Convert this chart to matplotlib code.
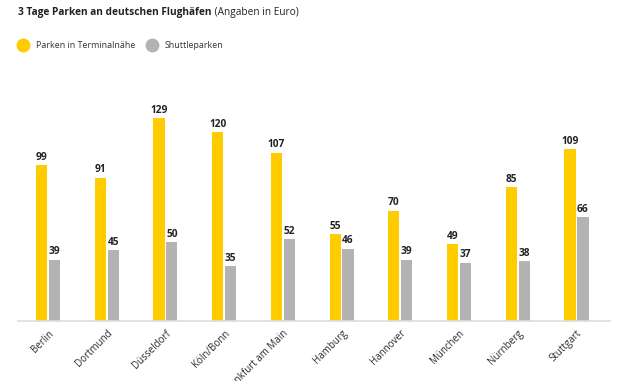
import numpy as np
import matplotlib.pyplot as plt
from matplotlib.lines import Line2D

cities = ["Berlin", "Dortmund", "Düsseldorf", "Köln/Bonn", "Frankfurt am Main",
          "Hamburg", "Hannover", "München", "Nürnberg", "Stuttgart"]
terminal = [99, 91, 129, 120, 107, 55, 70, 49, 85, 109]
shuttle = [39, 45, 50, 35, 52, 46, 39, 37, 38, 66]
series = ["Parken in Terminalnähe", "Shuttleparken"]

yellow = "#FFCC00"
grey = "#B3B3B3"

plt.rcParams['font.family'] = ['Open Sans', 'DejaVu Sans']

fig = plt.figure(figsize=(6.3, 3.81), dpi=100)
ax = fig.add_axes([18/630, 1 - 321/381, 592/630, 221/381])

x = np.arange(len(cities))
w = 0.19
b1 = ax.bar(x - 0.11, terminal, w, color=yellow)
b2 = ax.bar(x + 0.11, shuttle, w, color=grey)

for bars in (b1, b2):
    for r in bars:
        ax.text(r.get_x() + r.get_width() / 2, r.get_height() + 1.5, str(int(r.get_height())),
                ha="center", va="bottom", fontsize=7.3, fontweight="bold", color="#222222")

ax.set_xlim(-0.51, 9.57)
ax.set_ylim(0, 140.4)
ax.set_xticks(x)
ax.set_xticklabels(cities, rotation=45, ha="right", rotation_mode="anchor", fontsize=7, color="#2a2a2a")
ax.tick_params(axis="x", length=0, pad=5)
ax.set_yticks([])
for s in ["top", "right", "left"]:
    ax.spines[s].set_visible(False)
ax.spines["bottom"].set_color("#DDDDDD")
ax.spines["bottom"].set_linewidth(1.2)

# title: bold part + normal part right after it
t1 = fig.text(18/630, 1 - 13/381, "3 Tage Parken an deutschen Flughäfen", fontsize=7.3, fontweight="bold",
              va="center", ha="left", color="#222222")
ax.annotate(" (Angaben in Euro)", xy=(1, 0.5), xycoords=t1, va="center", ha="left",
            fontsize=7.3, color="#222222")

# legend drawn by hand
leg_y = 1 - 45/381
for mx, tx, col, lab in [(23, 36, yellow, series[0]), (152, 165, grey, series[1])]:
    fig.add_artist(Line2D([mx/630], [leg_y], marker="o", ls="", color=col, markersize=9,
                          transform=fig.transFigure))
    fig.text(tx/630, leg_y, lab, fontsize=6.4, va="center", ha="left", color="#333333")

fig.savefig("out.png", dpi=100)
